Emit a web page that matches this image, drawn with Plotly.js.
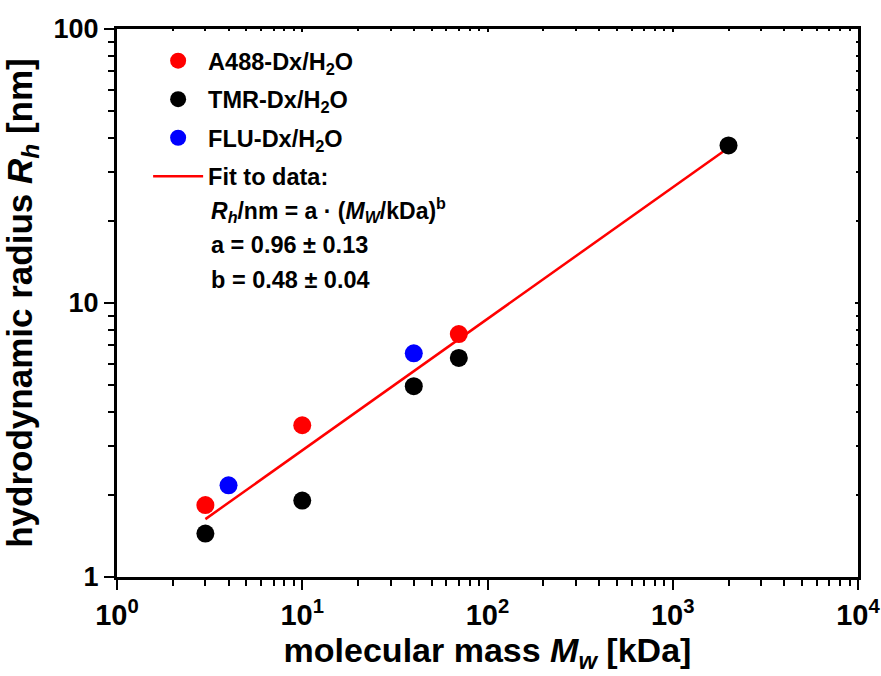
<!DOCTYPE html>
<html>
<head>
<meta charset="utf-8">
<script src="https://cdn.plot.ly/plotly-3.0.1.min.js"></script>
<style>
  html, body { margin: 0; padding: 0; background: #ffffff; }
  #chart { width: 881px; height: 676px; }
</style>
</head>
<body>
<div id="chart"></div>
<script>
// Hydrodynamic radius of labelled dextrans versus molecular mass
const a488X = [3, 10, 70];
const a488Y = [1.83, 3.58, 7.7];

const tmrX = [3, 10, 40, 70, 2000];
const tmrY = [1.44, 1.9, 4.97, 6.3, 37.6];

const fluX = [4, 40];
const fluY = [2.16, 6.55];

// power-law fit  Rh/nm = a * (Mw/kDa)^b
const fitA = 0.96;
const fitB = 0.48;
const fitX = [3, 2000];
const fitY = fitX.map(m => fitA * Math.pow(m, fitB));

const xTickVals = [1, 10, 100, 1000, 10000];
const xTickText = ['10<sup>0</sup>', '10<sup>1</sup>', '10<sup>2</sup>', '10<sup>3</sup>', '10<sup>4</sup>'];
const yTickVals = [1, 10, 100];
const yTickText = ['1', '10', '100'];

const digits = [2, 3, 4, 5, 6, 7, 8, 9];
const xMinorVals = [1, 10, 100, 1000].flatMap(d => digits.map(k => k * d));
const yMinorVals = [1, 10].flatMap(d => digits.map(k => k * d));

const FONT = '"Liberation Sans", Arial, sans-serif';

const traces = [
  {
    x: fitX, y: fitY, type: 'scatter', mode: 'lines',
    name: 'Fit to data:',
    line: { color: '#ff0000', width: 2.5 },
    legendrank: 4, legendgroup: 'g4'
  },
  {
    x: a488X, y: a488Y, type: 'scatter', mode: 'markers',
    name: 'A488-Dx/H<sub>2</sub>O',
    marker: { color: '#ff0000', size: 18 },
    legendrank: 1, legendgroup: 'g1'
  },
  {
    x: tmrX, y: tmrY, type: 'scatter', mode: 'markers',
    name: 'TMR-Dx/H<sub>2</sub>O',
    marker: { color: '#000000', size: 18 },
    legendrank: 2, legendgroup: 'g2'
  },
  {
    x: fluX, y: fluY, type: 'scatter', mode: 'markers',
    name: 'FLU-Dx/H<sub>2</sub>O',
    marker: { color: '#0000ff', size: 18 },
    legendrank: 3, legendgroup: 'g3'
  },
  // empty trace that carries the mirrored top/right frame axes
  { x: [], y: [], type: 'scatter', mode: 'markers', xaxis: 'x2', yaxis: 'y2', showlegend: false, hoverinfo: 'skip' }
];

const axisCommon = {
  type: 'log',
  showgrid: false,
  zeroline: false,
  showline: true,
  linecolor: '#000000',
  linewidth: 3,
  ticks: 'outside',
  ticklen: 10,
  tickwidth: 2,
  tickcolor: '#000000',
  tickmode: 'array'
};

const layout = {
  width: 881,
  height: 676,
  margin: { l: 117, r: 23, t: 29, b: 99 },
  paper_bgcolor: '#ffffff',
  plot_bgcolor: '#ffffff',
  font: { family: FONT, color: '#000000' },
  showlegend: true,
  xaxis: Object.assign({}, axisCommon, {
    range: [0, 4],
    tickvals: xTickVals,
    ticktext: xTickText,
    tickfont: { family: FONT, size: 29, color: '#000000', weight: 700 },
    minor: { tickmode: 'array', tickvals: xMinorVals, ticks: 'outside', ticklen: 6, tickwidth: 2, tickcolor: '#000000' },
    title: {
      text: 'molecular mass <i>M</i><sub><i>w</i></sub> [kDa]',
      font: { family: FONT, size: 34, color: '#000000', weight: 700 },
      standoff: 6
    }
  }),
  yaxis: Object.assign({}, axisCommon, {
    range: [0, 2],
    tickvals: yTickVals,
    ticktext: yTickText,
    tickfont: { family: FONT, size: 27, color: '#000000', weight: 700 },
    minor: { tickmode: 'array', tickvals: yMinorVals, ticks: 'outside', ticklen: 6, tickwidth: 2, tickcolor: '#000000' },
    title: {
      text: 'hydrodynamic radius <i>R</i><sub><i>h</i></sub> [nm]',
      font: { family: FONT, size: 35, color: '#000000', weight: 700 },
      standoff: 12
    }
  }),
  xaxis2: {
    type: 'log', overlaying: 'x', side: 'top', anchor: 'y2', range: [0, 4],
    showgrid: false, zeroline: false, showline: true, linecolor: '#000000', linewidth: 3,
    tickmode: 'array', tickvals: xTickVals, showticklabels: false,
    ticks: 'inside', ticklen: 3, tickwidth: 2, tickcolor: '#000000',
    minor: { tickmode: 'array', tickvals: xMinorVals, ticks: 'inside', ticklen: 2, tickwidth: 2, tickcolor: '#000000' }
  },
  yaxis2: {
    type: 'log', overlaying: 'y', side: 'right', anchor: 'x2', range: [0, 2],
    showgrid: false, zeroline: false, showline: true, linecolor: '#000000', linewidth: 3,
    tickmode: 'array', tickvals: yTickVals, showticklabels: false,
    ticks: 'inside', ticklen: 3, tickwidth: 2, tickcolor: '#000000',
    minor: { tickmode: 'array', tickvals: yMinorVals, ticks: 'inside', ticklen: 2, tickwidth: 2, tickcolor: '#000000' }
  },
  legend: {
    x: 0.042, y: 0.982, xanchor: 'left', yanchor: 'top',
    bgcolor: 'rgba(0,0,0,0)', borderwidth: 0,
    font: { family: FONT, size: 23.5, color: '#000000', weight: 700 },
    itemwidth: 50,
    tracegroupgap: 5,
    itemclick: false, itemdoubleclick: false
  },
  annotations: [
    {
      xref: 'paper', yref: 'paper', x: 0.124, y: 0.6697, xanchor: 'left', yanchor: 'middle',
      showarrow: false, align: 'left',
      text: '<i>R</i><sub><i>h</i></sub>/nm = a · (<i>M</i><sub><i>W</i></sub>/kDa)<sup>b</sup>',
      font: { family: FONT, size: 23, color: '#000000', weight: 700 }
    },
    {
      xref: 'paper', yref: 'paper', x: 0.124, y: 0.6058, xanchor: 'left', yanchor: 'middle',
      showarrow: false, align: 'left',
      text: 'a = ' + fitA.toFixed(2) + ' ± 0.13',
      font: { family: FONT, size: 23.5, color: '#000000', weight: 700 }
    },
    {
      xref: 'paper', yref: 'paper', x: 0.124, y: 0.542, xanchor: 'left', yanchor: 'middle',
      showarrow: false, align: 'left',
      text: 'b = ' + fitB.toFixed(2) + ' ± 0.04',
      font: { family: FONT, size: 23.5, color: '#000000', weight: 700 }
    }
  ]
};

Plotly.newPlot('chart', traces, layout, { displayModeBar: false, staticPlot: true });
</script>
</body>
</html>
